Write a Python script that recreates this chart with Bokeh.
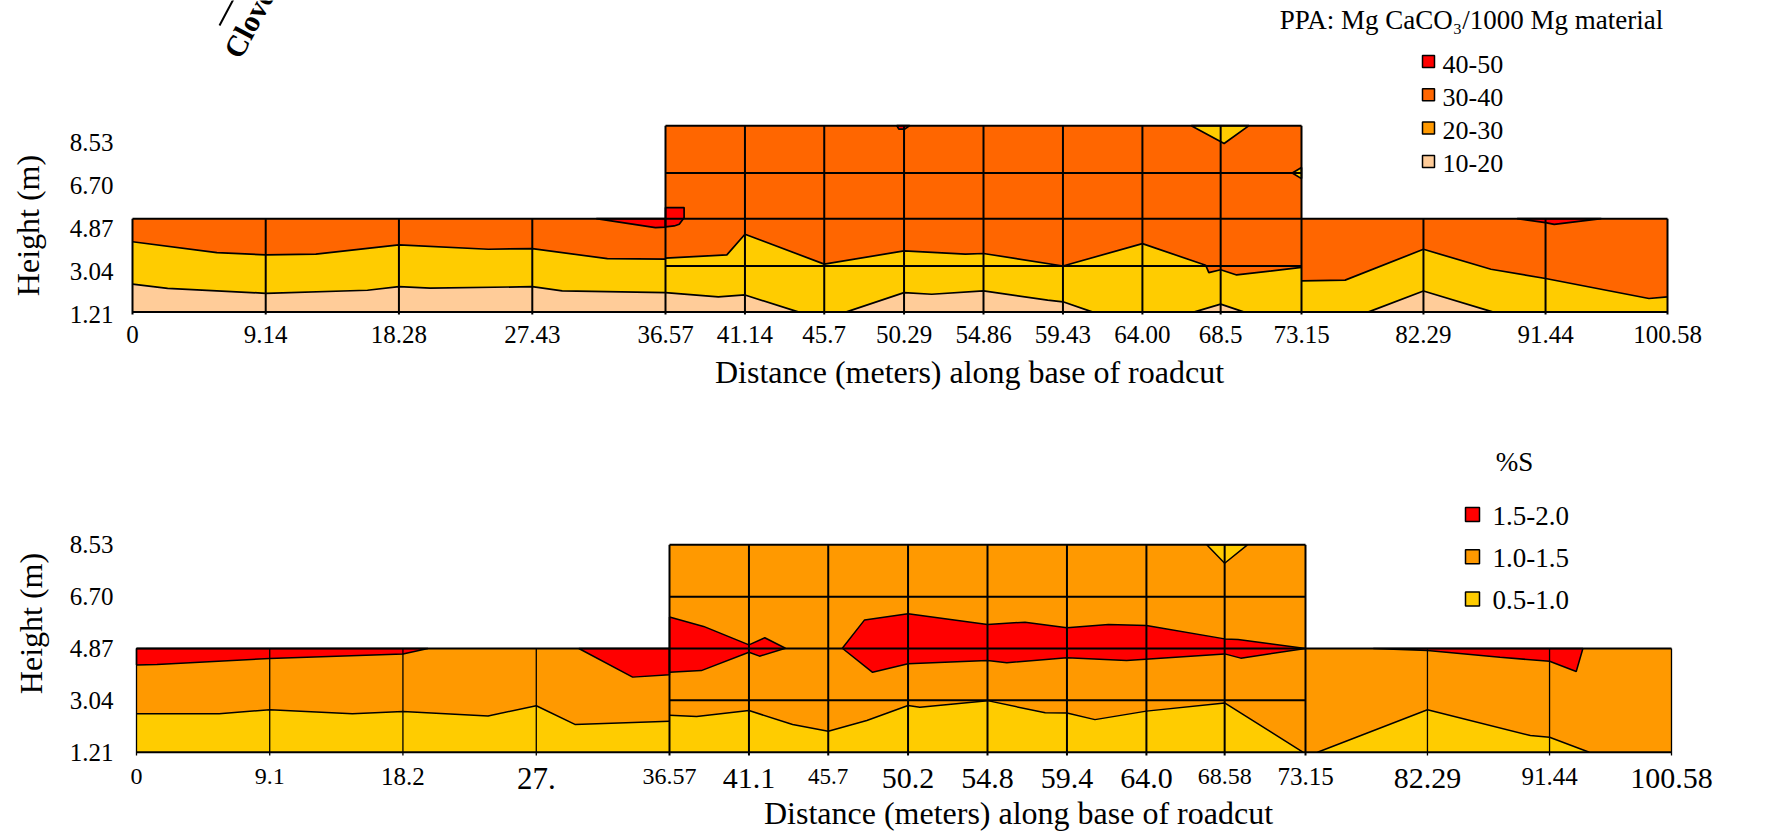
import math
import numpy as np
from bokeh.plotting import figure
from bokeh.layouts import column
from bokeh.models import Range1d, ColumnDataSource
from bokeh.core.properties import value, field
from bokeh.embed import file_html
from bokeh.resources import INLINE

FONT = "Liberation Serif"

# ======================= DATA =======================
dist_ticks = [0, 9.14, 18.28, 27.43, 36.57, 41.14, 45.7, 50.29, 54.86, 59.43, 64.00, 68.5, 73.15, 82.29, 91.44, 100.58]
ppa_tick_labels = ["0", "9.14", "18.28", "27.43", "36.57", "41.14", "45.7", "50.29", "54.86", "59.43",
                   "64.00", "68.5", "73.15", "82.29", "91.44", "100.58"]
s_tick_labels = ["0", "9.1", "18.2", "27.", "36.57", "41.1", "45.7", "50.2", "54.8", "59.4",
                 "64.0", "68.58", "73.15", "82.29", "91.44", "100.58"]
height_ticks = [1.21, 3.04, 4.87, 6.70, 8.53]
height_labels = ["1.21", "3.04", "4.87", "6.70", "8.53"]
section_bounds = [0, 36.57, 73.15, 100.58]

# ---- top chart: PPA (Mg CaCO3 / 1000 Mg material) ----
ppa_rows = [1.32, 3.27, 5.28, 7.22, 9.23]
ppa_classes = ["40-50", "30-40", "20-30", "10-20"]

ppa_c30_left_d = [0, 5.79, 9.14, 12.58, 18.28, 24.42, 27.43, 32.58, 36.57]
ppa_c30_left_h = [4.30, 3.84, 3.74, 3.77, 4.17, 3.98, 4.01, 3.58, 3.56]
ppa_c30_mid_d = [36.57, 40.10, 41.14, 45.7, 50.29, 53.82, 54.86, 59.43, 64.00, 67.64, 67.82, 68.5, 69.42, 73.15]
ppa_c30_mid_h = [3.60, 3.74, 4.62, 3.35, 3.91, 3.77, 3.80, 3.27, 4.22, 3.30, 2.99, 3.11, 2.89, 3.21]
ppa_c30_right_d = [73.15, 76.42, 82.29, 87.35, 91.44, 99.19, 100.58]
ppa_c30_right_h = [2.64, 2.67, 3.98, 3.13, 2.74, 1.89, 1.96]

ppa_c20_left_d = [0, 2.41, 9.14, 16.12, 18.28, 20.43, 27.43, 29.48, 36.57]
ppa_c20_left_h = [2.50, 2.32, 2.11, 2.24, 2.39, 2.33, 2.39, 2.21, 2.14]
ppa_c20_mid_a_d = [36.57, 39.61, 41.14, 44.20]
ppa_c20_mid_a_h = [2.14, 1.96, 2.04, 1.32]
ppa_c20_mid_b_d = [46.98, 50.29, 51.88, 54.86, 58.55, 59.43, 61.11]
ppa_c20_mid_b_h = [1.32, 2.14, 2.07, 2.21, 1.82, 1.75, 1.32]
ppa_c20_mid_c_d = [67.00, 68.5, 69.82]
ppa_c20_mid_c_h = [1.32, 1.65, 1.32]
ppa_c20_right_d = [78.18, 82.29, 87.47]
ppa_c20_right_h = [1.32, 2.21, 1.32]

ppa_c40_left_d = [31.82, 36.57, 36.57, 35.88]
ppa_c40_left_h = [5.28, 5.28, 4.92, 4.90]
ppa_c40_mid_a_d = [36.57, 37.64, 37.64, 37.36, 37.07, 36.57]
ppa_c40_mid_a_h = [5.75, 5.75, 5.32, 5.04, 4.97, 4.93]
ppa_c40_mid_b_d = [49.87, 50.62, 50.33, 49.99]
ppa_c40_mid_b_h = [9.23, 9.23, 9.08, 9.08]
ppa_c40_right_d = [89.31, 95.62, 92.09, 91.44]
ppa_c40_right_h = [5.28, 5.28, 5.04, 5.11]

ppa_low_a_d = [66.81, 70.13, 68.70]
ppa_low_a_h = [9.23, 9.23, 8.47]
ppa_low_b_d = [73.15, 72.62, 73.15]
ppa_low_b_h = [7.45, 7.22, 6.98]

# ---- bottom chart: %S ----
s_rows = [1.21, 3.04, 4.87, 6.70, 8.53]
s_classes = ["1.5-2.0", "1.0-1.5", "0.5-1.0"]

s_c10_left_d = [0, 5.67, 9.14, 14.81, 18.28, 24.12, 27.43, 30.08, 36.57]
s_c10_left_h = [2.57, 2.57, 2.71, 2.57, 2.65, 2.49, 2.85, 2.19, 2.30]
s_c10_mid_d = [36.57, 38.13, 41.14, 43.65, 45.7, 47.92, 50.29, 50.97, 54.86, 58.18, 59.43, 61.04, 64.00, 68.5, 73.0]
s_c10_mid_h = [2.51, 2.47, 2.68, 2.19, 1.95, 2.33, 2.86, 2.80, 3.03, 2.60, 2.59, 2.36, 2.66, 2.95, 1.21]
s_c10_right_d = [74.05, 82.29, 90.0, 91.44, 94.42]
s_c10_right_h = [1.21, 2.71, 1.80, 1.74, 1.21]

s_c15_left_a_d = [0, 1.41, 9.14, 18.28, 20.0]
s_c15_left_a_h = [4.29, 4.31, 4.52, 4.68, 4.87]
s_c15_left_b_d = [30.35, 34.04, 36.57]
s_c15_left_b_h = [4.87, 3.86, 3.94]
s_c15_mid_a_d = [36.57, 38.53, 41.14, 42.05, 43.24, 41.75, 41.14, 38.40, 36.57]
s_c15_mid_a_h = [5.98, 5.65, 5.00, 5.25, 4.88, 4.60, 4.74, 4.09, 4.03]
s_c15_mid_b_d = [46.51, 47.79, 50.29, 54.86, 57.02, 59.43, 61.82, 64.00, 68.5, 69.27, 73.15,
                 69.43, 68.5, 62.86, 59.43, 55.97, 54.86, 50.29, 48.25]
s_c15_mid_b_h = [4.88, 5.88, 6.10, 5.72, 5.80, 5.60, 5.72, 5.68, 5.21, 5.19, 4.87,
                 4.53, 4.68, 4.45, 4.54, 4.37, 4.45, 4.33, 4.03]
s_c15_right_d = [78.23, 82.29, 87.73, 91.44, 93.44, 93.94]
s_c15_right_h = [4.87, 4.80, 4.56, 4.42, 4.06, 4.87]

s_low_a_d = [67.47, 69.81, 68.5]
s_low_a_h = [8.53, 8.53, 7.88]

# ======================= STYLE / LAYOUT =======================
RED, ORANGE_D, ORANGE, YELLOW, PEACH = "#FF0000", "#FF6600", "#FF9900", "#FFCC00", "#FFCC99"
ppa_legend_colors = [RED, ORANGE_D, ORANGE, PEACH]
s_legend_colors = [RED, ORANGE, YELLOW]
s_tick_sizes = [24, 24, 25, 31, 24, 30, 23, 30, 30, 30, 30, 24, 25, 30, 25, 30]

W = 1765
WARP_U = [0, 533, 1169, 1535]   # horizontal display units of the section breaks


def wx(d):
    return [float(v) for v in np.interp(np.asarray(d, dtype=float), section_bounds, WARP_U)]


# top figure geometry (canvas pixels)
T_H, T_LEFT, T_BASE_PX, T_PPM, T_Y0 = 420, 132, 314, 23.55, 1.21
# bottom figure geometry
B_H, B_TOP, B_LEFT, B_BASE_PX, B_PPM = 413, 420, 136, 755, 28.33
B_Y0 = 1.21 - 3.3 / B_PPM


def tx(px):
    return px - T_LEFT


def ty(py):
    return T_Y0 + (T_BASE_PX - py) / T_PPM


def bx(px):
    return px - B_LEFT


def by(py):
    return B_Y0 + (B_BASE_PX - py) / B_PPM


def make_fig(height, xs_fn, ys_fn, top_px):
    p = figure(width=W, height=height,
               x_range=Range1d(xs_fn(0), xs_fn(W)),
               y_range=Range1d(ys_fn(top_px + height), ys_fn(top_px)),
               min_border=0, min_border_left=0, min_border_right=0,
               min_border_top=0, min_border_bottom=0,
               x_axis_location=None, y_axis_location=None,
               output_backend="svg", toolbar_location=None)
    p.outline_line_color = None
    p.grid.visible = False
    p.background_fill_color = "white"
    p.border_fill_color = "white"
    return p


def band_below(d, h, base):
    return wx(list(d) + [d[-1], d[0]]), list(h) + [base, base]


def draw_chart(p, rows, base, ext, background, bands, islands, contour_lines,
               side_w, mid_w, contour_w):
    lower_top, mid_top = rows[2], rows[4]
    L = section_bounds
    p.patches(xs=[wx([L[0], L[1], L[1], L[0]]), wx([L[1], L[2], L[2], L[1]]), wx([L[2], L[3], L[3], L[2]])],
              ys=[[base, base, lower_top, lower_top], [base, base, mid_top, mid_top],
                  [base, base, lower_top, lower_top]],
              fill_color=background, line_color=None)
    xs, ys, cs = [], [], []
    for d, h, c, closed in bands:
        if closed:
            xs.append(wx(d)); ys.append(list(h))
        else:
            bxs, bys = band_below(d, h, base)
            xs.append(bxs); ys.append(bys)
        cs.append(c)
    p.patches(xs=xs, ys=ys, fill_color=cs, line_color=None)
    p.patches(xs=[wx(d) for d, h, c in islands], ys=[list(h) for d, h, c in islands],
              fill_color=[c for d, h, c in islands], line_color="black", line_width=contour_w)
    p.multi_line(xs=[wx(d) for d, h in contour_lines], ys=[list(h) for d, h in contour_lines],
                 line_color="black", line_width=contour_w)
    vx_side, vy_side, vx_mid, vy_mid = [], [], [], []
    for d in dist_ticks:
        if L[1] <= d <= L[2]:
            vx_mid.append(wx([d, d])); vy_mid.append([ext, mid_top])
        else:
            vx_side.append(wx([d, d])); vy_side.append([ext, lower_top])
    p.multi_line(xs=vx_side, ys=vy_side, line_color="black", line_width=side_w)
    p.multi_line(xs=vx_mid, ys=vy_mid, line_color="black", line_width=mid_w)
    hx = [wx([L[0], L[3]]), wx([L[0], L[3]])] + [wx([L[1], L[2]]) for _ in (1, 3, 4)]
    hy = [[base, base], [lower_top, lower_top]] + [[rows[i], rows[i]] for i in (1, 3, 4)]
    p.multi_line(xs=hx, ys=hy, line_color="black", line_width=mid_w)


def txt(p, x, y, text, size, align="left", baseline="middle", angle=0.0, style="normal"):
    p.text(x=x, y=y, text=text, angle=angle, text_font=value(FONT), text_font_size=size,
           text_font_style=style, text_align=align, text_baseline=baseline, text_color="black")


# ======================= TOP CHART =======================
p1 = make_fig(T_H, tx, ty, 0)

ppa_bands = [
    (ppa_c30_left_d, ppa_c30_left_h, YELLOW, False),
    (ppa_c30_mid_d, ppa_c30_mid_h, YELLOW, False),
    (ppa_c30_right_d, ppa_c30_right_h, YELLOW, False),
    (ppa_c20_left_d, ppa_c20_left_h, PEACH, False),
    (ppa_c20_mid_a_d, ppa_c20_mid_a_h, PEACH, False),
    (ppa_c20_mid_b_d, ppa_c20_mid_b_h, PEACH, True),
    (ppa_c20_mid_c_d, ppa_c20_mid_c_h, PEACH, True),
    (ppa_c20_right_d, ppa_c20_right_h, PEACH, True),
]
ppa_islands = [
    (ppa_c40_left_d, ppa_c40_left_h, RED),
    (ppa_c40_mid_a_d, ppa_c40_mid_a_h, RED),
    (ppa_c40_mid_b_d, ppa_c40_mid_b_h, RED),
    (ppa_c40_right_d, ppa_c40_right_h, RED),
    (ppa_low_a_d, ppa_low_a_h, YELLOW),
    (ppa_low_b_d, ppa_low_b_h, YELLOW),
]
ppa_lines = [(ppa_c30_left_d, ppa_c30_left_h), (ppa_c30_mid_d, ppa_c30_mid_h),
             (ppa_c30_right_d, ppa_c30_right_h), (ppa_c20_left_d, ppa_c20_left_h),
             (ppa_c20_mid_a_d, ppa_c20_mid_a_h), (ppa_c20_mid_b_d, ppa_c20_mid_b_h),
             (ppa_c20_mid_c_d, ppa_c20_mid_c_h), (ppa_c20_right_d, ppa_c20_right_h)]
draw_chart(p1, ppa_rows, ppa_rows[0], T_Y0, ORANGE_D, ppa_bands, ppa_islands, ppa_lines,
           2, 2, 1.7)

# axes (tick labels and titles)
txt(p1, [tx(113)] * 5, height_ticks, height_labels, "25px", align="right")
txt(p1, wx(dist_ticks), [ty(333.5)] * len(dist_ticks), ppa_tick_labels, "25px", align="center")
txt(p1, [tx(27)], [ty(225)], ["Height (m)"], "32px", align="center", angle=math.pi / 2)
txt(p1, [tx(969)], [ty(371)], ["Distance (meters) along base of roadcut"], "32px", align="center")

# legend
txt(p1, [tx(1471)], [ty(19.5)], ["PPA: Mg CaCO\u2083/1000 Mg material"], "27px", align="center")
p1.scatter(x=[tx(1428)] * 4, y=[ty(61 + 33.3 * i) for i in range(4)], marker="square", size=12,
           fill_color=ppa_legend_colors, line_color="black", line_width=1.5)
txt(p1, [tx(1442)] * 4, [ty(63.5 + 33.3 * i) for i in range(4)], ppa_classes, "26px")

# rotated site label, cut off by the top edge
ang = math.radians(62)
txt(p1, [tx(231)], [ty(55)], ["Clove"], "30px", baseline="alphabetic", angle=ang, style="bold")
p1.line(x=[tx(219), tx(219 + 0.469 * 40)], y=[ty(25), ty(25 - 0.883 * 40)],
        line_color="black", line_width=2)

# ======================= BOTTOM CHART =======================
p2 = make_fig(B_H, bx, by, B_TOP)

s_bands = [
    (s_c10_left_d, s_c10_left_h, YELLOW, False),
    (s_c10_mid_d, s_c10_mid_h, YELLOW, False),
    (s_c10_right_d, s_c10_right_h, YELLOW, True),
]
s_islands = [
    (s_c15_left_a_d + [0], s_c15_left_a_h + [4.87], RED),
    (s_c15_left_b_d + [36.57], s_c15_left_b_h + [4.87], RED),
    (s_c15_mid_a_d, s_c15_mid_a_h, RED),
    (s_c15_mid_b_d, s_c15_mid_b_h, RED),
    (s_c15_right_d, s_c15_right_h, RED),
    (s_low_a_d, s_low_a_h, YELLOW),
]
s_lines = [(s_c10_left_d, s_c10_left_h), (s_c10_mid_d, s_c10_mid_h), (s_c10_right_d, s_c10_right_h)]
draw_chart(p2, s_rows, s_rows[0], B_Y0, ORANGE, s_bands, s_islands, s_lines, 1.3, 2, 1.5)

txt(p2, [bx(113)] * 5, height_ticks, height_labels, "25px", align="right")
src = ColumnDataSource(dict(
    x=wx(dist_ticks),
    y=[by(768 + 0.338 * s) for s in s_tick_sizes],
    text=s_tick_labels,
    size=["%dpx" % s for s in s_tick_sizes],
))
p2.text(x="x", y="y", text="text", source=src, text_font=value(FONT),
        text_font_size=field("size"), text_align="center", text_baseline="middle",
        text_color="black")
txt(p2, [bx(30)], [by(623)], ["Height (m)"], "32px", align="center", angle=math.pi / 2)
txt(p2, [bx(1018)], [by(812)], ["Distance (meters) along base of roadcut"], "32px", align="center")

txt(p2, [bx(1514)], [by(461)], ["%S"], "27px", align="center")
p2.scatter(x=[bx(1472)] * 3, y=[by(514 + 42.2 * i) for i in range(3)], marker="square", size=14,
           fill_color=s_legend_colors, line_color="black", line_width=1.5)
txt(p2, [bx(1492)] * 3, [by(515 + 42 * i) for i in range(3)], s_classes, "27px")

layout = column(p1, p2)
open("out.html", "w").write(file_html(layout, INLINE))
